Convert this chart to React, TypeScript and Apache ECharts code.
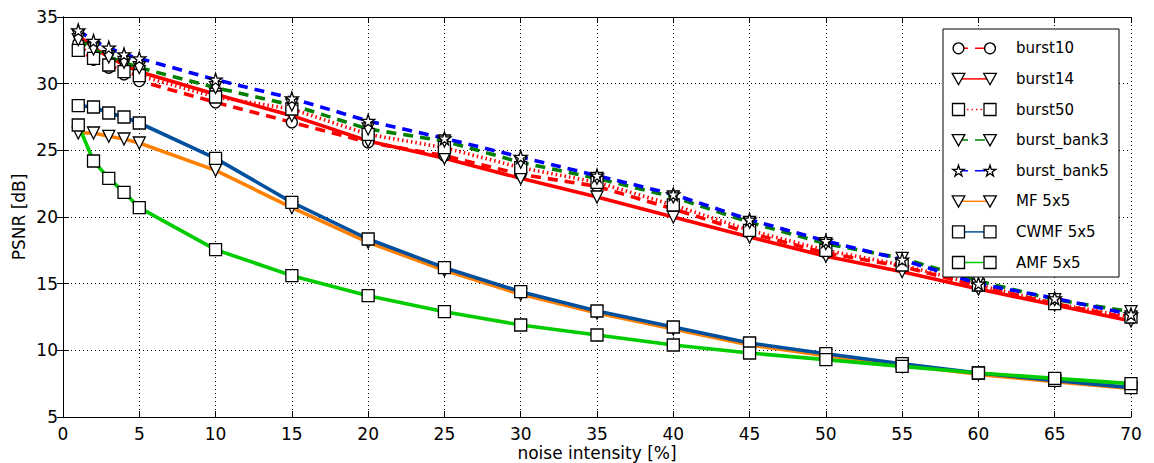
import React, { useEffect, useRef } from "react";
import * as echarts from "echarts";

const noise = [1, 2, 3, 4, 5, 10, 15, 20, 25, 30, 35, 40, 45, 50, 55, 60, 65, 70];
const xTicks = [0, 5, 10, 15, 20, 25, 30, 35, 40, 45, 50, 55, 60, 65, 70];
const yTicks = [5, 10, 15, 20, 25, 30, 35];

const burst10 = [33.0, 31.8, 31.2, 30.7, 30.2, 28.6, 27.1, 25.6, 24.6, 23.2, 22.3, 20.6, 18.8, 17.3, 16.3, 14.8, 13.5, 12.4];
const burst14 = [33.6, 32.7, 32.0, 31.4, 30.9, 29.2, 27.6, 25.7, 24.4, 22.9, 21.5, 20.0, 18.5, 17.05, 15.9, 14.6, 13.4, 12.2];
const burst50 = [32.5, 31.9, 31.4, 30.9, 30.6, 29.0, 28.1, 26.2, 25.2, 23.7, 22.6, 20.9, 19.0, 17.5, 16.4, 14.9, 13.5, 12.5];
const burstBank3 = [33.3, 32.6, 32.0, 31.6, 31.2, 29.7, 28.4, 26.6, 25.7, 24.1, 22.9, 21.5, 19.6, 18.0, 16.9, 15.2, 13.8, 12.9];
const burstBank5 = [34.0, 33.2, 32.7, 32.2, 31.9, 30.3, 28.9, 27.2, 25.9, 24.5, 23.1, 21.7, 19.8, 18.2, 16.8, 15.0, 13.9, 12.7];
const mf5x5 = [26.3, 26.3, 26.05, 25.85, 25.55, 23.5, 20.7, 18.1, 16.0, 14.2, 12.8, 11.6, 10.4, 9.6, 8.9, 8.2, 7.65, 7.15];
const cwmf5x5 = [28.35, 28.25, 27.8, 27.5, 27.05, 24.4, 21.1, 18.35, 16.2, 14.4, 12.95, 11.75, 10.55, 9.75, 9.0, 8.3, 7.75, 7.2];
const amf5x5 = [26.9, 24.2, 22.9, 21.85, 20.7, 17.55, 15.6, 14.1, 12.9, 11.9, 11.15, 10.4, 9.8, 9.3, 8.8, 8.3, 7.9, 7.5];

const FONT = "DejaVu Sans";
const DASHED = [10, 7];
const DOTTED = [1.5, 3];

const starPts = (cx: number, cy: number, r: number) => {
  const pts: number[][] = [];
  for (let i = 0; i < 10; i++) {
    const a = -Math.PI / 2 + (i * Math.PI) / 5;
    const rr = i % 2 === 0 ? r : r * 0.382;
    pts.push([cx + rr * Math.cos(a), cy + rr * Math.sin(a)]);
  }
  return pts;
};

const STAR =
  "path://M0,-1 L0.2245,-0.309 L0.951,-0.309 L0.363,0.118 L0.588,0.809 L0,0.382 L-0.588,0.809 L-0.363,0.118 L-0.951,-0.309 L-0.2245,-0.309 Z";

type Spec = { name: string; data: number[]; color: string; dash: any; marker: string };

const specs: Spec[] = [
  { name: "burst10", data: burst10, color: "#ff0000", dash: DASHED, marker: "circle" },
  { name: "burst14", data: burst14, color: "#ff0000", dash: "solid", marker: "tri" },
  { name: "burst50", data: burst50, color: "#ff0000", dash: DOTTED, marker: "square" },
  { name: "burst_bank3", data: burstBank3, color: "#008000", dash: DASHED, marker: "tri" },
  { name: "burst_bank5", data: burstBank5, color: "#0000ff", dash: DASHED, marker: "star" },
  { name: "MF 5x5", data: mf5x5, color: "#ff8000", dash: "solid", marker: "tri" },
  { name: "CWMF 5x5", data: cwmf5x5, color: "#00509e", dash: "solid", marker: "square" },
  { name: "AMF 5x5", data: amf5x5, color: "#00cc00", dash: "solid", marker: "square" },
];

const markerStyle = { fill: "#fff", stroke: "#000", lineWidth: 1.3 };

function legendMarker(kind: string, cx: number, cy: number): any {
  if (kind === "circle") return { type: "circle", shape: { cx, cy, r: 5.4 }, style: markerStyle, z: 101 };
  if (kind === "square")
    return { type: "rect", shape: { x: cx - 6, y: cy - 6, width: 12, height: 12 }, style: markerStyle, z: 101 };
  if (kind === "tri")
    return {
      type: "polygon",
      shape: { points: [[cx - 6.3, cy - 5.5], [cx + 6.3, cy - 5.5], [cx, cy + 5.8]] },
      style: markerStyle,
      z: 101,
    };
  return { type: "polygon", shape: { points: starPts(cx, cy + 0.5, 6) }, style: markerStyle, z: 101 };
}

export default function App() {
  const ref = useRef<HTMLDivElement>(null);
  useEffect(() => {
    const chart = echarts.init(ref.current!, null, { renderer: "svg" });

    const series = specs.map((s) => ({
      name: s.name,
      type: "line",
      data: noise.map((x, i) => [x, s.data[i]]),
      showSymbol: true,
      showAllSymbol: true,
      symbol: s.marker === "circle" ? "circle" : s.marker === "square" ? "rect" : s.marker === "tri" ? "triangle" : STAR,
      symbolSize: s.marker === "star" ? 13 : s.marker === "circle" ? 11 : 12,
      symbolRotate: s.marker === "tri" ? 180 : 0,
      lineStyle: { color: s.color, width: 3.6, type: s.dash, cap: "butt" },
      itemStyle: { color: "#fff", borderColor: "#000", borderWidth: 1.3 },
      emphasis: { disabled: true },
      silent: true,
      clip: true,
    }));

    const legendChildren: any[] = [
      { type: "rect", shape: { x: 943, y: 29, width: 176, height: 248 }, style: { fill: "#fff", stroke: "#000", lineWidth: 1 }, z: 99 },
    ];
    specs.forEach((s, i) => {
      const y = 48.3 + i * 30.6;
      legendChildren.push({
        type: "line",
        shape: { x1: 958, y1: y, x2: 990, y2: y },
        style: { stroke: s.color, lineWidth: 1.5, lineDash: s.dash === "solid" ? null : s.dash },
        z: 100,
      });
      legendChildren.push(legendMarker(s.marker, 958.5, y));
      legendChildren.push(legendMarker(s.marker, 990, y));
      legendChildren.push({
        type: "text",
        x: 1016,
        y,
        style: { text: s.name, fontSize: 15, fontFamily: FONT, fill: "#000", align: "left", verticalAlign: "middle" },
        z: 101,
      });
    });

    const axisLine = { show: true, lineStyle: { color: "#000", width: 1 } };
    const tick = { show: true, inside: true, length: 6, lineStyle: { color: "#000", width: 1 } };
    const grid = { show: true, lineStyle: { color: "#000", width: 1, type: [1, 3] } };

    const option: any = {
      animation: false,
      backgroundColor: "#fff",
      grid: { left: 63, right: 23, top: 17, bottom: 46, outerBoundsMode: "none", containLabel: false },
      xAxis: [
        {
          type: "value",
          min: xTicks[0],
          max: xTicks[xTicks.length - 1],
          interval: 5,
          name: "noise intensity [%]",
          nameLocation: "middle",
          nameGap: 27,
          nameMoveOverlap: false,
          nameTextStyle: { fontSize: 17, lineHeight: 17, fontFamily: FONT, color: "#000" },
          axisLine,
          axisTick: tick,
          axisLabel: { fontSize: 17, lineHeight: 17, fontFamily: FONT, color: "#000", margin: 8 },
          splitLine: grid,
        },
        {
          type: "value",
          position: "top",
          min: xTicks[0],
          max: xTicks[xTicks.length - 1],
          interval: 5,
          axisLine,
          axisTick: tick,
          axisLabel: { show: false },
          splitLine: { show: false },
        },
      ],
      yAxis: [
        {
          type: "value",
          min: yTicks[0],
          max: yTicks[yTicks.length - 1],
          interval: 5,
          name: "PSNR [dB]",
          nameLocation: "middle",
          nameGap: 36,
          nameMoveOverlap: false,
          nameTextStyle: { fontSize: 17, fontFamily: FONT, color: "#000" },
          axisLine,
          axisTick: tick,
          axisLabel: { fontSize: 17, fontFamily: FONT, color: "#000", margin: 5 },
          splitLine: grid,
        },
        {
          type: "value",
          position: "right",
          min: yTicks[0],
          max: yTicks[yTicks.length - 1],
          interval: 5,
          axisLine,
          axisTick: tick,
          axisLabel: { show: false },
          splitLine: { show: false },
        },
      ],
      series,
      graphic: legendChildren,
    };
    chart.setOption(option);
    return () => chart.dispose();
  }, []);
  return <div ref={ref} style={{ position: "absolute", left: 0, top: 0, width: 1154, height: 463 }} />;
}
